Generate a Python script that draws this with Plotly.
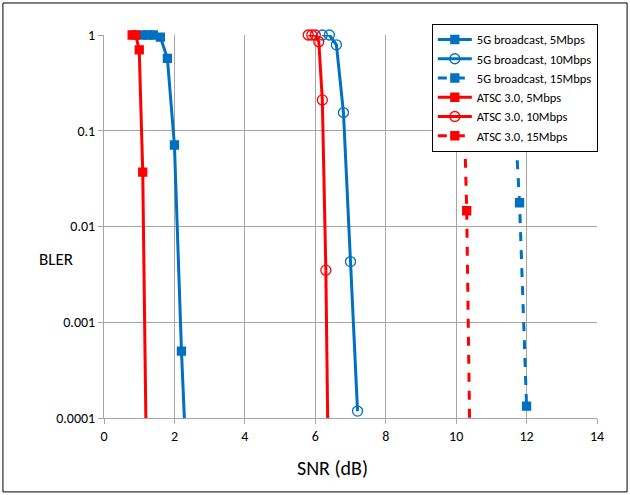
import plotly.graph_objects as go

# ---- data ----
g5_5_x = [1.1, 1.25, 1.4, 1.6, 1.8, 2.0, 2.2, 2.4]
g5_5_y = [1.0, 1.0, 1.0, 0.95, 0.57, 0.071, 0.0005, 0.00001]

g5_10_x = [6.2, 6.4, 6.6, 6.8, 7.0, 7.2]
g5_10_y = [1.0, 1.0, 0.79, 0.155, 0.0043, 0.000118]

g5_15_x = [11.4, 11.6, 11.8, 12.0]
g5_15_y = [1.0, 0.4, 0.0177, 0.000133]

at_5_x = [0.8, 0.9, 1.0, 1.1, 1.2]
at_5_y = [1.0, 1.0, 0.7, 0.037, 0.000046]

at_10_x = [5.8, 5.9, 6.0, 6.1, 6.2, 6.3, 6.4]
at_10_y = [1.0, 1.0, 1.0, 0.85, 0.21, 0.0035, 0.0000035]

at_15_x = [10.0, 10.1, 10.2, 10.3, 10.4]
at_15_y = [1.0, 0.95, 0.35, 0.0146, 0.00003]

names = ["5G broadcast, 5Mbps", "5G broadcast, 10Mbps", "5G broadcast, 15Mbps",
         "ATSC 3.0, 5Mbps", "ATSC 3.0, 10Mbps", "ATSC 3.0, 15Mbps"]

y_tick_vals = [1, 0.1, 0.01, 0.001, 0.0001]
y_tick_text = ["1", "0.1", "0.01", "0.001", "0.0001"]
x_tick_vals = [0, 2, 4, 6, 8, 10, 12, 14]

BLUE = "#0070C0"
RED = "#FF0000"

series = [
    (g5_5_x, g5_5_y, BLUE, "solid", "square"),
    (g5_10_x, g5_10_y, BLUE, "solid", "circle-open"),
    (g5_15_x, g5_15_y, BLUE, "dash", "square"),
    (at_5_x, at_5_y, RED, "solid", "square"),
    (at_10_x, at_10_y, RED, "solid", "circle-open"),
    (at_15_x, at_15_y, RED, "dash", "square"),
]

FONT = "Carlito, Liberation Sans, Arial, sans-serif"
YMIN = 1e-4
fig = go.Figure()
for name, (xs, ys, col, dash, sym) in zip(names, series):
    vis = [(x, y) for x, y in zip(xs, ys) if y >= YMIN]
    vx = [p[0] for p in vis]
    vy = [p[1] for p in vis]
    n = len(vx)
    if n < len(xs):
        fig.add_trace(go.Scatter(x=xs[n - 1:], y=ys[n - 1:], mode="lines",
                                 line=dict(color=col, width=3, dash=dash),
                                 showlegend=False, hoverinfo="skip"))
    msize = 8 if sym == "square" else 10
    fig.add_trace(go.Scatter(x=vx, y=vy, mode="lines+markers", name=name,
                             line=dict(color=col, width=3, dash=dash),
                             marker=dict(symbol=sym, size=msize, color=col,
                                         line=dict(color=col, width=1.3)),
                             cliponaxis=False))

grid = "#a6a6a6"
fig.update_layout(
    width=630, height=495,
    margin=dict(l=104, r=33, t=35, b=77, autoexpand=False),
    paper_bgcolor="white", plot_bgcolor="white",
    font=dict(family=FONT, color="black", size=14),
    showlegend=True,
    legend=dict(x=0.665, y=1.029, xanchor="left", yanchor="top",
                bgcolor="white", bordercolor="black", borderwidth=1,
                font=dict(size=12.5, family=FONT),
                tracegroupgap=0, itemwidth=34),
    xaxis=dict(range=[0, 14], tickvals=x_tick_vals, showgrid=True,
               gridcolor=grid, gridwidth=1, showline=True, linecolor=grid,
               linewidth=1, ticks="outside", ticklen=5, tickcolor=grid,
               zeroline=False, tickfont=dict(size=14)),
    yaxis=dict(type="log", range=[-4, 0], tickvals=y_tick_vals,
               ticktext=y_tick_text, showgrid=True, gridcolor=grid,
               gridwidth=1, showline=True, linecolor=grid, linewidth=1,
               ticks="outside", ticklen=5, tickcolor=grid, zeroline=False,
               tickfont=dict(size=14)),
    annotations=[
        dict(text="BLER", xref="paper", yref="paper",
             x=-0.059, y=0.415, xanchor="right", yanchor="middle",
             showarrow=False, font=dict(size=17)),
        dict(text="SNR (dB)", xref="paper", yref="paper",
             x=0.4645, y=-0.1305, xanchor="center", yanchor="middle",
             showarrow=False, font=dict(size=20)),
    ],
    shapes=[dict(type="rect", xref="paper", yref="paper",
                 x0=-0.205, x1=1.061, y0=-0.193, y1=1.0836,
                 line=dict(color="black", width=1), layer="below")],
)

fig.write_html("out.html", config={"displayModeBar": False},
               post_script="document.body.style.margin='0';"
                           "document.body.style.overflow='hidden';")
